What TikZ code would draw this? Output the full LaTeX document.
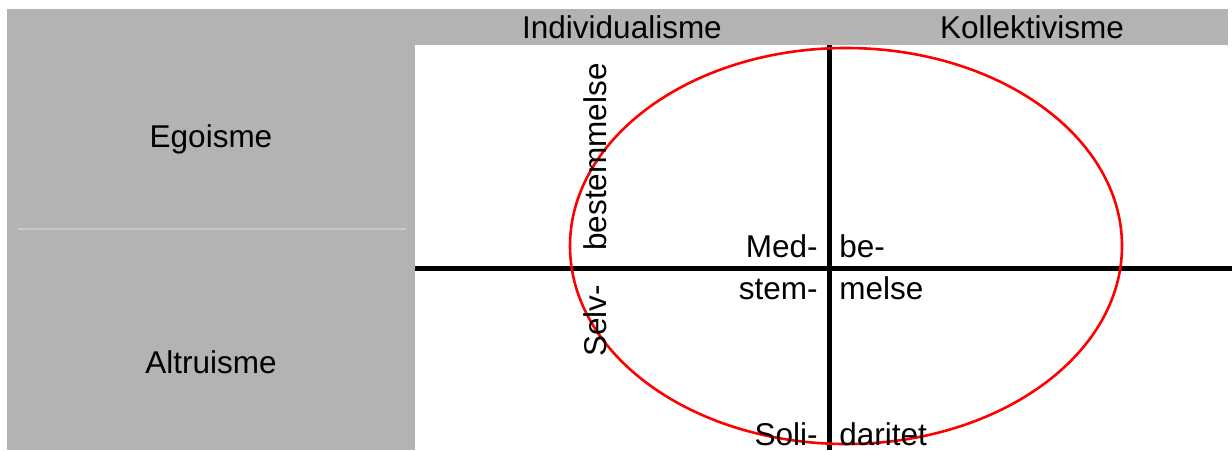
\documentclass[tikz,border=0pt]{standalone}
\usepackage{fontspec}
\setmainfont{Liberation Sans}
\definecolor{cellgray}{HTML}{B3B3B3}
\definecolor{seam}{HTML}{C9C9C9}
\definecolor{ringred}{HTML}{FF0000}
\tikzset{
  lbl/.style={inner sep=0pt, font=\fontsize{15.75}{19}\selectfont},
  axis/.style={draw=black, line width=2.5pt},
  cell/.style={fill=cellgray, draw=none}
}
\begin{document}
\begin{tikzpicture}[x=0.5pt, y=-0.5pt]
  \useasboundingbox (0,0) rectangle (1232,450);
  % grey table cells
  \path[cell] (7,9) rectangle (1228,45);
  \path[cell] (7,45) rectangle (415,450);
  \draw[seam, line width=0.6pt] (18,229) -- (406,229);
  \node[lbl] (indiv) at (622,27) {Individualisme};
  \node[lbl] (koll) at (1032,27) {Kollektivisme};
  \node[lbl] (ego) at (211,139) {Egoisme};
  \node[lbl] (altr) at (211,362) {Altruisme};
  % axes
  \coordinate (top) at (829,45);
  \coordinate (bot) at (829,450);
  \coordinate (lft) at (415,268.5);
  \coordinate (rgt) at (1232,268.5);
  \draw[axis] (top) -- (bot);
  \draw[axis] (lft) -- (rgt);
  % ring
  \draw[ringred, line width=1.3pt] (846,246) ellipse [x radius=276, y radius=198];
  % labels in the quadrants
  \node[lbl, rotate=90, anchor=base] (best) at (606,157) {bestemmelse};
  \node[lbl, rotate=90, anchor=base] (selv) at (606,321) {Selv-};
  \node[lbl, anchor=base east] (med) at (818,257) {Med-};
  \node[lbl, anchor=base west] (be) at (839,257) {be-};
  \node[lbl, anchor=base east] (stem) at (818,299) {stem-};
  \node[lbl, anchor=base west] (melse) at (839,299) {melse};
  \node[lbl, anchor=base east] (soli) at (818,445) {Soli-};
  \node[lbl, anchor=base west] (dari) at (839,445) {daritet};
\end{tikzpicture}
\end{document}
